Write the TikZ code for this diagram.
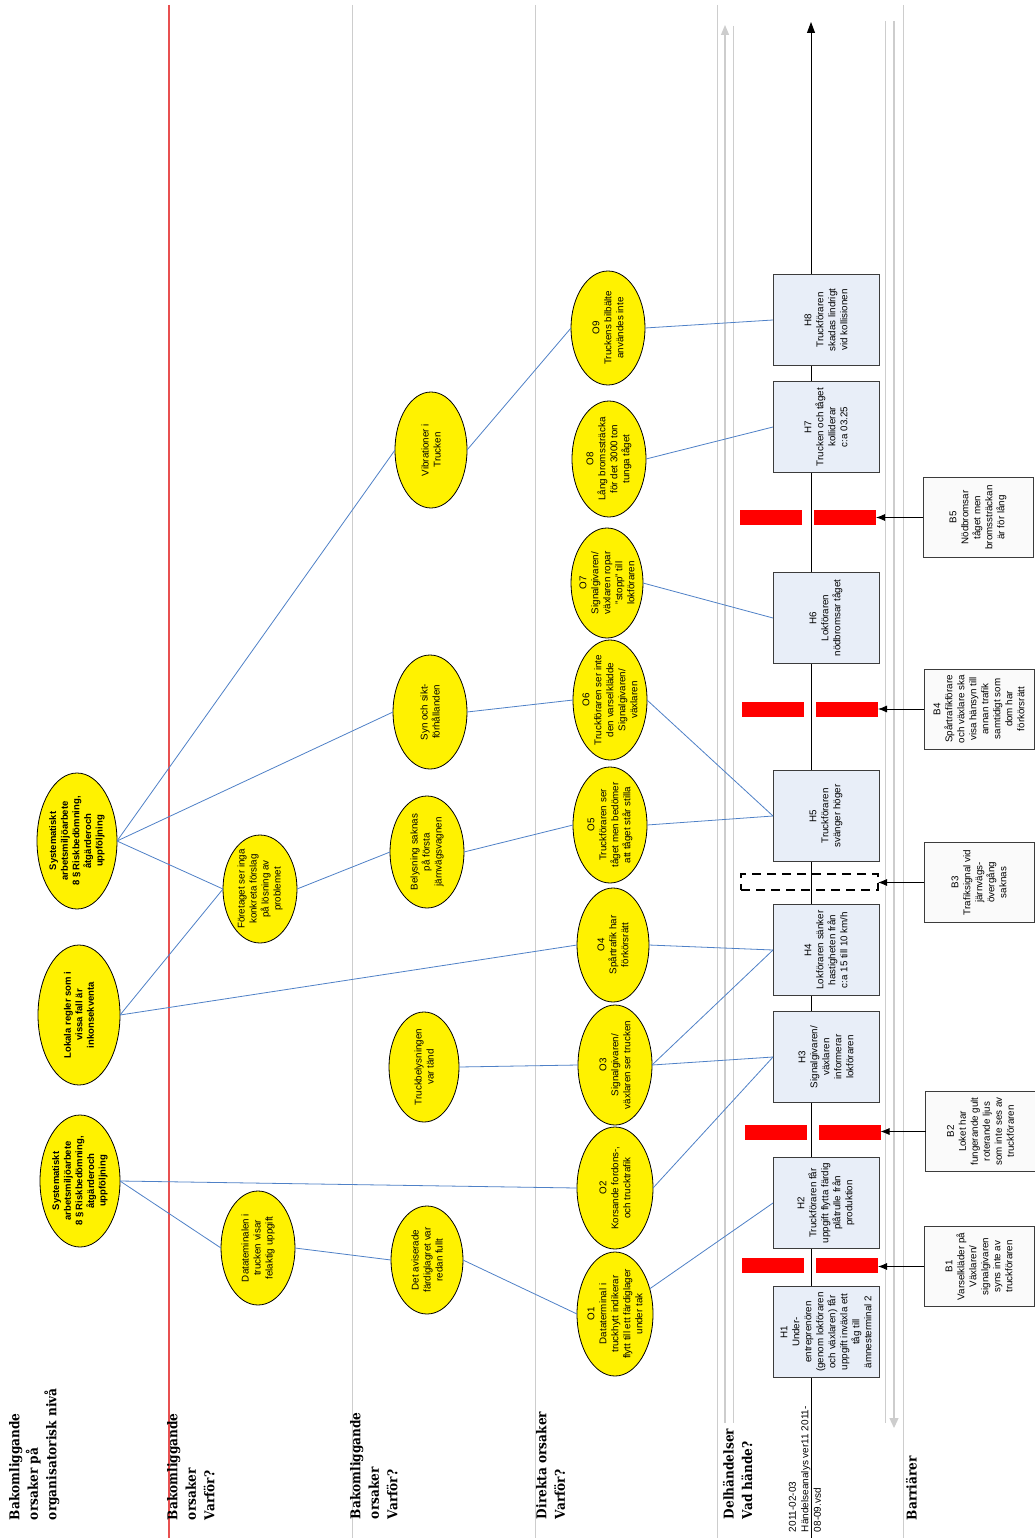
\documentclass[tikz,border=0pt]{standalone}
\usepackage{fontspec}
\setmainfont{Liberation Sans}
\newfontfamily\hdrfont{DejaVu Serif}[FakeStretch=0.9]
\usetikzlibrary{shapes.geometric,arrows.meta}
\definecolor{hfill}{RGB}{232,238,248}
\definecolor{bfill}{RGB}{250,250,250}
\definecolor{conn}{RGB}{79,129,199}
\definecolor{lane}{RGB}{205,205,205}
\definecolor{lanered}{RGB}{232,80,80}
\definecolor{bord}{RGB}{60,60,60}
\begin{document}
\begin{tikzpicture}[x=1pt,y=-1pt,
  every node/.style={inner sep=0pt,outer sep=0pt},
  txt/.style={rotate=90,align=center,font=\fontsize{9.8}{12}\selectfont},
  btxt/.style={rotate=90,align=center,font=\fontsize{9.5}{11.6}\selectfont\bfseries},
  hdr/.style={rotate=90,align=left,anchor=north west,font=\hdrfont\bfseries\fontsize{13.5}{18.5}\selectfont},
  oval/.style={ellipse,draw=black,fill=yellow,line width=0.8pt},
  hbox/.style={draw=bord,fill=hfill,line width=1pt,minimum width=106pt,minimum height=91pt},
  bbox/.style={draw=bord,fill=bfill,line width=1pt,minimum width=110pt,minimum height=80pt},
  bar/.style={fill=red,minimum width=62pt,minimum height=15pt},
  cn/.style={draw=conn,line width=0.8pt},
  barr/.style={draw=black,line width=0.8pt,-{Latex[length=9pt,width=7pt]}}
]
\useasboundingbox (0,0) rectangle (1035,1538);
\fill[white] (0,0) rectangle (1035,1538);
% lanes
\draw[lanered,line width=1.1pt] (169,5) -- (169,1538);
\foreach \xx in {352,535,717,903} \draw[lane,line width=1pt] (\xx,5) -- (\xx,1538);
\draw[lane,line width=1.2pt,-{Triangle[length=10pt,width=8pt]}] (725,1423) -- (725,25);
\draw[lane,line width=1pt] (733,26) -- (733,1423);
\draw[lane,line width=1.2pt,-{Triangle[length=10pt,width=9pt]}] (894,21) -- (894,1428);
\draw[lane,line width=1pt] (885,21) -- (885,1423);
% headers
\node[hdr] (h1t) at (9,1520) {Bakomliggande\\orsaker på\\organisatorisk nivå};
\node[hdr] (h2t) at (167,1520) {Bakomliggande\\orsaker\\Varför?};
\node[hdr] (h3t) at (350,1519) {Bakomliggande\\orsaker\\Varför?};
\node[hdr] (h4t) at (536,1519) {Direkta orsaker\\Varför?};
\node[hdr] (h5t) at (723,1519) {Delhändelser\\Vad hände?};
\node[hdr] (h6t) at (906,1520) {Barriärer};
\node[rotate=90,align=left,anchor=north west,font=\fontsize{10}{12.5}\selectfont] (date) at (789,1532) {2011-02-03\\Händelseanalys ver11 2011-\\08-09.vsd};
% timeline
\coordinate (tlb) at (811,1538);
\coordinate (tlt) at (811,22);
\draw[black,line width=1pt,-{Triangle[length=11pt,width=8pt]}] (tlb) -- (tlt);
% H boxes
\node[hbox] (H1) at (826,1332) {}; \node[txt] (H1t) at (H1) {H1\\Under-\\entreprenören\\(genom lokföraren\\och växlaren) får\\uppgift inväxla ett\\tåg till\\ämnesterminal 2};
\node[hbox] (H2) at (826,1203) {}; \node[txt] (H2t) at (H2) {H2\\Truckföraren får\\uppgift flytta färdig\\plåtrulle från\\produktion};
\node[hbox] (H3) at (826,1057) {}; \node[txt] (H3t) at (H3) {H3\\Signalgivaren/\\växlaren\\informerar\\lokföraren};
\node[hbox] (H4) at (826,950) {}; \node[txt] (H4t) at (H4) {H4\\Lokföraren sänker\\hastigheten från\\c:a 15 till 10 km/h};
\node[hbox] (H5) at (826,816) {}; \node[txt] (H5t) at (H5) {H5\\Truckföraren\\svänger höger};
\node[hbox] (H6) at (826,618) {}; \node[txt] (H6t) at (H6) {H6\\Lokföraren\\nödbromsar tåget};
\node[hbox] (H7) at (826,427) {}; \node[txt] (H7t) at (H7) {H7\\Trucken och tåget\\kolliderar\\c:a 03.25};
\node[hbox] (H8) at (826,320) {}; \node[txt] (H8t) at (H8) {H8\\Truckföraren\\skadas lindrigt\\vid kollisionen};
% barriers
\node[bar] (r1a) at (773,1265.5) {}; \node[bar] (r1b) at (847,1265.5) {};
\node[bar] (r2a) at (775.5,1132.5) {}; \node[bar] (r2b) at (849.5,1132.5) {};
\node[draw=black,line width=1.6pt,dash pattern=on 9pt off 6pt,minimum width=137pt,minimum height=16pt] (r3) at (809.5,882) {};
\node[bar] (r4a) at (773,709.5) {}; \node[bar] (r4b) at (847,709.5) {};
\node[bar] (r5a) at (770.5,517.5) {}; \node[bar] (r5b) at (845,517.5) {};
\node[bbox] (B1) at (979,1266.5) {}; \node[txt] (B1t) at (B1) {B1\\Varselkläder på\\Växlaren/\\signalgivaren\\syns inte av\\truckföraren};
\node[bbox] (B2) at (980.5,1131.5) {}; \node[txt] (B2t) at (B2) {B2\\Loket har\\fungerande gult\\roterande ljus\\som inte ses av\\truckföraren};
\node[bbox] (B3) at (979,882.5) {}; \node[txt] (B3t) at (B3) {B3\\Trafiksignal vid\\järnvägs-\\övergång\\saknas};
\node[bbox] (B4) at (979,709) {}; \node[txt] (B4t) at (B4) {B4\\Spårtrafikförare\\och växlare ska\\visa hänsyn till\\annan trafik\\samtidigt som\\dom har\\förkörsrätt};
\node[bbox] (B5) at (978,517.5) {}; \node[txt] (B5t) at (B5) {B5\\Nödbromsar\\tåget men\\bromssträckan\\är för lång};
\draw[barr] (B1.west) -- (B1.west -| r1b.east);
\draw[barr] (B2.west) -- (B2.west -| r2b.east);
\draw[barr] (B3.west) -- (B3.west -| r3.east);
\draw[barr] (B4.west) -- (B4.west -| r4b.east);
\draw[barr] (B5.west) -- (B5.west -| r5b.east);
% ellipses
\node[oval,minimum width=80pt,minimum height=132pt] (sysB) at (80,1181) {};
\node[btxt] (sysBt) at (sysB) {Systematiskt\\arbetsmiljöarbete\\8 § Riskbedömning,\\åtgärderoch\\uppföljning};
\node[oval,minimum width=80pt,minimum height=136pt] (sysT) at (77,841) {};
\node[btxt] (sysTt) at (sysT) {Systematiskt\\arbetsmiljöarbete\\8 § Riskbedömning,\\åtgärderoch\\uppföljning};
\node[oval,minimum width=82pt,minimum height=140pt] (lok) at (79,1015) {};
\node[btxt] (lokt) at (lok) {Lokala regler som i\\vissa fall är\\inkonsekventa};
\node[oval,minimum width=74pt,minimum height=114pt] (dat) at (258,1248) {};
\node[txt] (datt) at (dat) {Datateminalen i\\trucken visar\\felaktig uppgift};
\node[oval,minimum width=74pt,minimum height=108pt] (fore) at (260,889) {};
\node[txt] (foret) at (fore) {Företaget ser inga\\konkreta förslag\\på lösning av\\problemet};
\node[oval,minimum width=72pt,minimum height=108pt] (avis) at (427,1260) {};
\node[txt] (avist) at (avis) {Det aviserade\\färdiglagret var\\redan fullt};
\node[oval,minimum width=70pt,minimum height=110pt] (trb) at (424,1067) {};
\node[txt] (trbt) at (trb) {Truckbelysningen\\var tänd};
\node[oval,minimum width=74pt,minimum height=112pt] (bely) at (427,852) {};
\node[txt] (belyt) at (bely) {Belysning saknas\\på första\\järnvägsvagnen};
\node[oval,minimum width=74pt,minimum height=114pt] (syn) at (430,712) {};
\node[txt] (synt) at (syn) {Syn och sikt-\\förhållanden};
\node[oval,minimum width=72pt,minimum height=116pt] (vib) at (431,450) {};
\node[txt] (vibt) at (vib) {Vibrationer i\\Trucken};
\node[oval,minimum width=76pt,minimum height=124pt] (o1) at (615,1314) {};
\node[txt] (o1t) at (o1) {O1\\Dataterminal i\\truckhytt indikerar\\flytt till ett färdiglager\\under tak};
\node[oval,minimum width=76pt,minimum height=122pt] (o2) at (615,1188) {};
\node[txt] (o2t) at (o2) {O2\\Korsande fordons-,\\och trucktrafik};
\node[oval,minimum width=74pt,minimum height=120pt] (o3) at (615,1065) {};
\node[txt] (o3t) at (o3) {O3\\Signalgivaren/\\växlaren ser trucken};
\node[oval,minimum width=72pt,minimum height=114pt] (o4) at (613,945) {};
\node[txt] (o4t) at (o4) {O4\\Spårtrafik har\\förkörsrätt};
\node[oval,minimum width=74pt,minimum height=116pt] (o5) at (610,825) {};
\node[txt] (o5t) at (o5) {O5\\Truckföraren ser\\tåget men bedömer\\att tåget står stilla};
\node[oval,minimum width=74pt,minimum height=120pt] (o6) at (610,700) {};
\node[txt] (o6t) at (o6) {O6\\Truckföraren ser inte\\den varselklädde\\Signalgivaren/\\växlaren};
\node[oval,minimum width=72pt,minimum height=110pt] (o7) at (607,583) {};
\node[txt] (o7t) at (o7) {O7\\Signalgivaren/\\växlaren ropar\\"stopp" till\\lokföraren};
\node[oval,minimum width=74pt,minimum height=116pt] (o8) at (609,459) {};
\node[txt] (o8t) at (o8) {O8\\Lång bromssträcka\\för det 3000 ton\\tunga tåget};
\node[oval,minimum width=74pt,minimum height=114pt] (o9) at (608,328) {};
\node[txt] (o9t) at (o9) {O9\\Truckens bilbälte\\användes inte};
% connectors
\draw[cn] (sysB.east) -- (o2.west);
\draw[cn] (sysB.east) -- (dat.west);
\draw[cn] (dat.east) -- (avis.west);
\draw[cn] (avis.east) -- (o1.west);
\draw[cn] (o1.36) -- (H2.west);
\draw[cn] (o2.east) -- (H3.west);
\draw[cn] (trb.east) -- (o3.west);
\draw[cn] (o3.east) -- (H3.west);
\draw[cn] (o3.east) -- (H4.west);
\draw[cn] (o4.east) -- (H4.west);
\draw[cn] (lok.east) -- (o4.west);
\draw[cn] (lok.east) -- (fore.west);
\draw[cn] (sysT.east) -- (fore.west);
\draw[cn] (sysT.east) -- (syn.west);
\draw[cn] (sysT.east) -- (vib.west);
\draw[cn] (fore.east) -- (bely.west);
\draw[cn] (bely.east) -- (o5.west);
\draw[cn] (o5.east) -- (H5.west);
\draw[cn] (syn.east) -- (o6.west);
\draw[cn] (o6.east) -- (H5.west);
\draw[cn] (o7.east) -- (H6.west);
\draw[cn] (o8.east) -- (H7.west);
\draw[cn] (vib.east) -- (o9.west);
\draw[cn] (o9.east) -- (H8.west);
\end{tikzpicture}
\end{document}
